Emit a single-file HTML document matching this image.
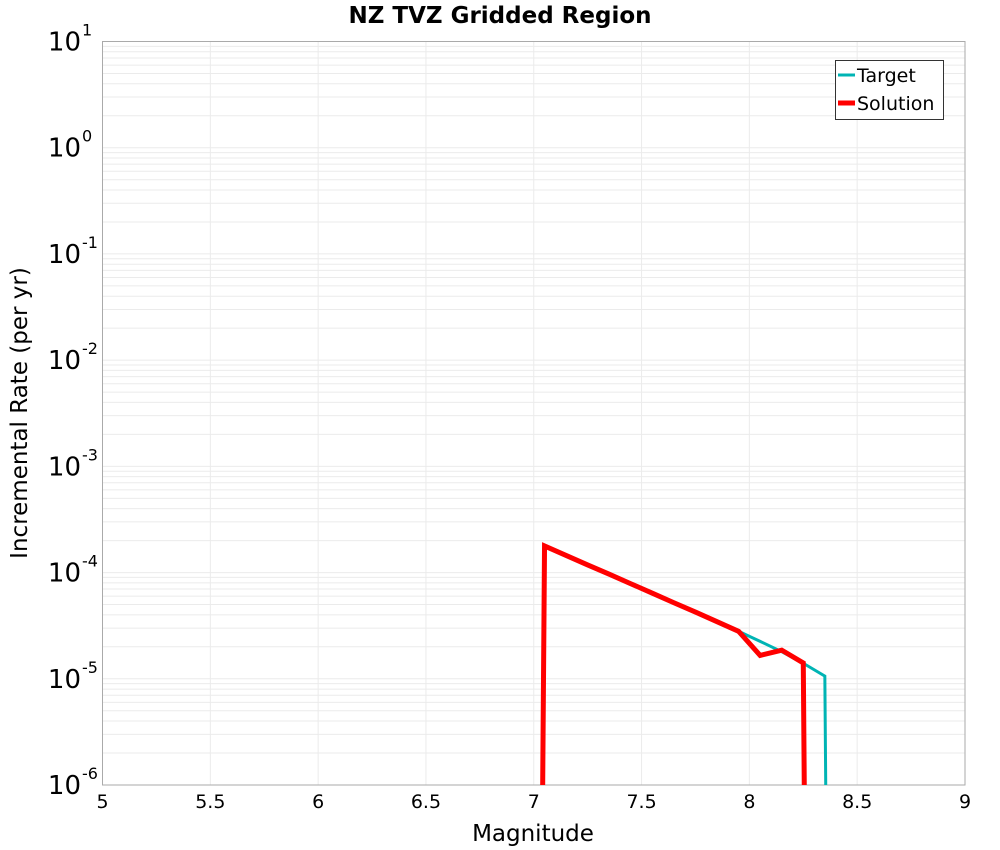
<!DOCTYPE html>
<html><head><meta charset="utf-8"><style>
html,body{margin:0;background:#fff;overflow:hidden;width:1000px;height:850px}
svg{display:block}
svg text{font-family:"DejaVu Sans","Liberation Sans",sans-serif}
</style></head><body>
<svg id="chart" width="1000" height="850">
<text x="500" y="23" text-anchor="middle" font-size="23" font-weight="bold">NZ TVZ Gridded Region</text>
<g id="grid"></g>
<g id="ticks"></g>
<rect x="102.5" y="41.5" width="862.5" height="743.5" fill="none" stroke="#aaa"/>
<g id="series"></g>
<text x="533" y="841" text-anchor="middle" font-size="23">Magnitude</text>
<text transform="translate(27,413) rotate(-90)" text-anchor="middle" font-size="23">Incremental Rate (per yr)</text>
<g>
<rect x="835.5" y="60.5" width="108" height="59" fill="#fff" stroke="#333"/>
<line x1="838" y1="75" x2="855" y2="75" stroke="#00b4b4" stroke-width="3"/>
<text x="857" y="82" font-size="19">Target</text>
<line x1="838" y1="103" x2="855" y2="103" stroke="#f00" stroke-width="5"/>
<text x="857" y="110" font-size="19">Solution</text>
</g>
</svg>
<script>
const mags=[6.95,7.05,7.15,7.25,7.35,7.45,7.55,7.65,7.75,7.85,7.95,8.05,8.15,8.25,8.35,8.45];
const targetRates=[1e-30,1.78e-4,1.45e-4,1.18e-4,9.65e-5,7.85e-5,6.4e-5,5.2e-5,4.25e-5,3.45e-5,2.8e-5,2.25e-5,1.8e-5,1.4e-5,1.06e-5,1e-30];
const solutionRates=[1e-30,1.78e-4,1.45e-4,1.18e-4,9.65e-5,7.85e-5,6.4e-5,5.2e-5,4.25e-5,3.45e-5,2.8e-5,1.66e-5,1.86e-5,1.41e-5,1e-30,1e-30];
const xTicks=["5","5.5","6","6.5","7","7.5","8","8.5","9"];
const yExps=[1,0,-1,-2,-3,-4,-5,-6];
const NS="http://www.w3.org/2000/svg";
const L=102.5,R=965,T=41.5,B=785;
const xs=m=>L+(m-5)/4*(R-L);
const ys=v=>T+(1-Math.log10(v))/7*(B-T);
function mk(tag,attrs,parent){const e=document.createElementNS(NS,tag);for(const k in attrs)e.setAttribute(k,attrs[k]);parent.appendChild(e);return e;}
const grid=document.getElementById('grid'),ticks=document.getElementById('ticks'),ser=document.getElementById('series');
for(let d=-6;d<1;d++){for(let k=1;k<10;k++){const y=ys(k*Math.pow(10,d));
const ln=mk('line',{x1:L,x2:R,y1:y,y2:y,stroke:'#ebebeb','stroke-width':1},grid);

}}
xTicks.forEach(t=>{const x=xs(+t);
const ln=mk('line',{x1:x,x2:x,y1:T,y2:B,stroke:'#ebebeb'},grid);


const tx=mk('text',{x:x,y:808,'text-anchor':'middle','font-size':19},ticks);tx.textContent=t;

});
yExps.forEach(e=>{const y=ys(Math.pow(10,e));
const tx=mk('text',{x:81,y:y+9,'text-anchor':'end','font-size':26},ticks);tx.textContent='10';


const sp=mk('text',{x:82,y:y-6,'font-size':16},ticks);sp.textContent=String(e);

});
const cp=mk('clipPath',{id:'clip'},ser);
mk('rect',{x:L,y:T,width:R-L,height:B-T},cp);
function path(vals){return vals.map((v,i)=>(i?'L':'M')+xs(mags[i]).toFixed(2)+','+ys(v).toFixed(2)).join(' ');}
const pt=mk('path',{d:path(targetRates),fill:'none',stroke:'#00b4b4','stroke-width':3,'clip-path':'url(#clip)'},ser);


const ps=mk('path',{d:path(solutionRates),fill:'none',stroke:'#f00','stroke-width':5,'stroke-linejoin':'miter','clip-path':'url(#clip)'},ser);


</script>
</body></html>
